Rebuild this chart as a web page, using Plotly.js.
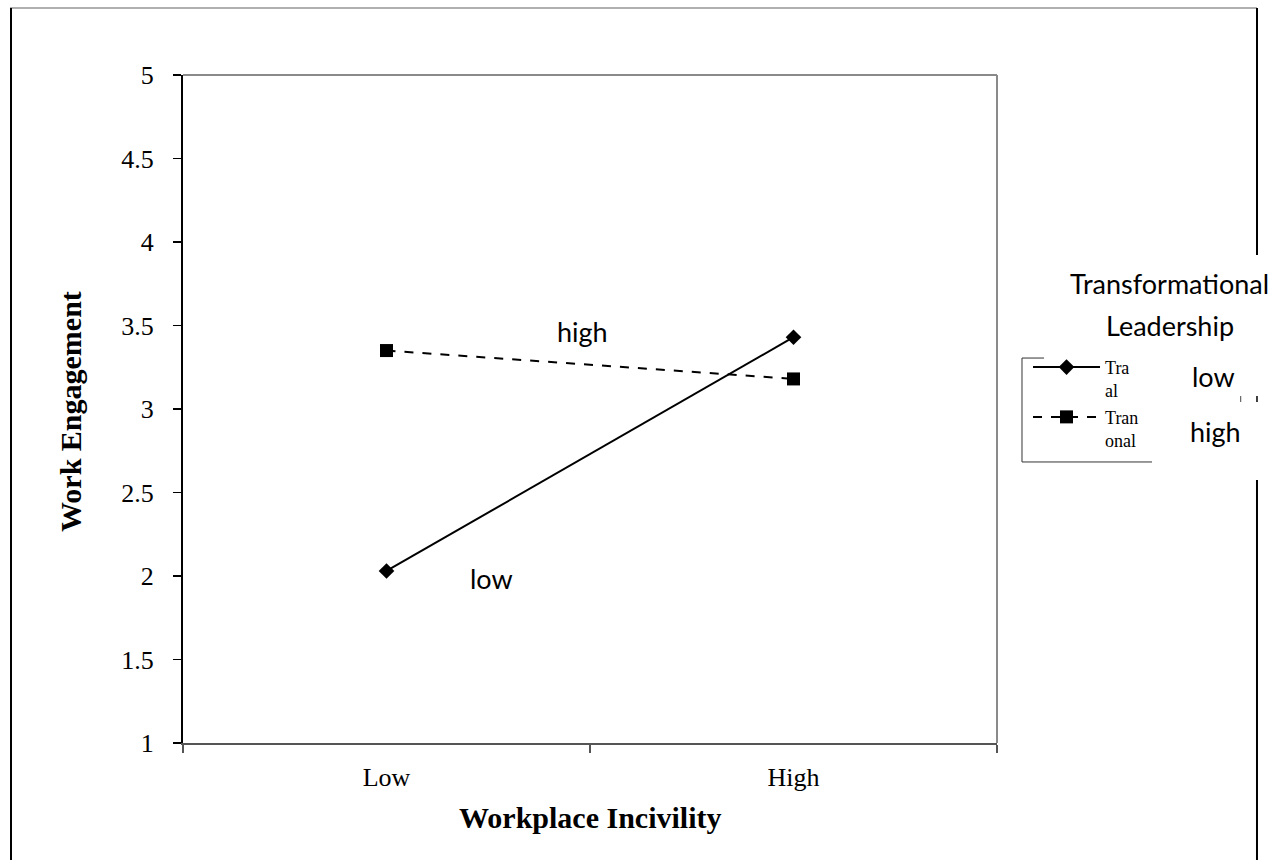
<!DOCTYPE html>
<html>
<head>
<meta charset="utf-8">
<script src="https://cdn.plot.ly/plotly-3.0.1.min.js"></script>
<style>html,body{margin:0;padding:0;background:#fff;}#chart{width:1284px;height:860px;}</style>
</head>
<body>
<div id="chart"></div>
<script>
// ---- data ----
const categories = ["Low", "High"];
const lowLeadership = [2.03, 3.43];
const highLeadership = [3.35, 3.18];
const legendNames = ["Tra<br>al", "Tran<br>onal"];
const yTicks = [1, 1.5, 2, 2.5, 3, 3.5, 4, 4.5, 5];
const yTickText = ["1", "1.5", "2", "2.5", "3", "3.5", "4", "4.5", "5"];
const xTitle = "Workplace Incivility";
const yTitle = "Work Engagement";

const serif = "Liberation Serif, Times New Roman, serif";
const sans = "Lato, Open Sans, sans-serif";

const traces = [
  {
    x: categories, y: lowLeadership, name: legendNames[0], type: "scatter", mode: "lines+markers",
    line: {color: "#000", width: 2, dash: "solid"},
    marker: {symbol: "diamond", size: 12, color: "#000"}
  },
  {
    x: categories, y: highLeadership, name: legendNames[1], type: "scatter", mode: "lines+markers",
    line: {color: "#000", width: 2, dash: "dash"},
    marker: {symbol: "square", size: 13, color: "#000"}
  }
];

const layout = {
  width: 1284, height: 860,
  margin: {l: 183, r: 287, t: 75, b: 117},
  paper_bgcolor: "#fff", plot_bgcolor: "#fff",
  showlegend: true,
  legend: {
    x: 1.0381, y: 0.590, xanchor: "left", yanchor: "top",
    bgcolor: "rgba(0,0,0,0)", borderwidth: 0,
    font: {family: serif, size: 18, color: "#000"},
    valign: "top", tracegroupgap: 0, itemwidth: 67
  },
  xaxis: {
    type: "category", range: [-0.5, 1.5],
    showgrid: false, zeroline: false,
    showline: true, linecolor: "#555", linewidth: 2,
    ticks: "outside", tickson: "boundaries", ticklen: 8, tickcolor: "#555", tickwidth: 1.5,
    tickfont: {family: serif, size: 26, color: "#000"},
    ticklabelstandoff: 10,
    fixedrange: true
  },
  yaxis: {
    range: [1, 5], tickvals: yTicks, ticktext: yTickText,
    showgrid: false, zeroline: false,
    showline: true, linecolor: "#000", linewidth: 2,
    ticks: "outside", ticklen: 8, tickcolor: "#000", tickwidth: 1.5,
    tickfont: {family: serif, size: 26, color: "#000"},
    ticklabelstandoff: 14,
    fixedrange: true
  },
  shapes: [
    // plot top and right border
    {type: "line", xref: "paper", yref: "paper", x0: 0, x1: 1, y0: 1, y1: 1, line: {color: "#8a8a8a", width: 2}},
    {type: "line", xref: "paper", yref: "paper", x0: 1, x1: 1, y0: 0, y1: 1, line: {color: "#8a8a8a", width: 2}},
    // outer frame
    {type: "line", xref: "paper", yref: "paper", x0: -0.2125, x1: 1.3194, y0: 1.1003, y1: 1.1003, line: {color: "#b0b0b0", width: 2}},
    {type: "line", xref: "paper", yref: "paper", x0: -0.2113, x1: -0.2113, y0: 1.1003, y1: -0.18, line: {color: "#000", width: 2}},
    {type: "line", xref: "paper", yref: "paper", x0: 1.3194, x1: 1.3194, y0: 1.1003, y1: 0.7305, line: {color: "#000", width: 2}},
    {type: "line", xref: "paper", yref: "paper", x0: 1.3194, x1: 1.3194, y0: 0.3937, y1: -0.18, line: {color: "#000", width: 2}},
    {type: "line", xref: "paper", yref: "paper", x0: 1.3194, x1: 1.3194, y0: 0.5194, y1: 0.5105, line: {color: "#000", width: 1.5}},
    {type: "line", xref: "paper", yref: "paper", x0: 1.2994, x1: 1.2994, y0: 0.5194, y1: 0.5105, line: {color: "#444", width: 1}},
    // legend box (partial)
    {type: "line", xref: "paper", yref: "paper", x0: 1.0307, x1: 1.0307, y0: 0.5763, y1: 0.4207, line: {color: "#333", width: 1}},
    {type: "line", xref: "paper", yref: "paper", x0: 1.0307, x1: 1.0578, y0: 0.5763, y1: 0.5763, line: {color: "#333", width: 1}},
    {type: "line", xref: "paper", yref: "paper", x0: 1.0307, x1: 1.1904, y0: 0.4207, y1: 0.4207, line: {color: "#333", width: 1}}
  ],
  annotations: [
    {text: "<b>" + xTitle + "</b>", xref: "paper", yref: "paper", x: 0.5, y: -0.1108, xanchor: "center", yanchor: "middle", showarrow: false, font: {family: serif, size: 30, color: "#000"}},
    {text: "<b>" + yTitle + "</b>", xref: "paper", yref: "paper", x: -0.1388, y: 0.4955, xanchor: "center", yanchor: "middle", textangle: -90, showarrow: false, font: {family: serif, size: 30, color: "#000"}},
    {text: "high", xref: "paper", yref: "paper", x: 0.4914, y: 0.6153, xanchor: "center", yanchor: "middle", showarrow: false, font: {family: sans, size: 27, color: "#000"}},
    {text: "low", xref: "paper", yref: "paper", x: 0.3796, y: 0.247, xanchor: "center", yanchor: "middle", showarrow: false, font: {family: sans, size: 27, color: "#000"}},
    {text: "Transformational", xref: "paper", yref: "paper", x: 1.2125, y: 0.6886, xanchor: "center", yanchor: "middle", showarrow: false, font: {family: sans, size: 27, color: "#000"}},
    {text: "Leadership", xref: "paper", yref: "paper", x: 1.2125, y: 0.6257, xanchor: "center", yanchor: "middle", showarrow: false, font: {family: sans, size: 27, color: "#000"}},
    {text: "low", xref: "paper", yref: "paper", x: 1.2654, y: 0.5494, xanchor: "center", yanchor: "middle", showarrow: false, font: {family: sans, size: 27, color: "#000"}},
    {text: "high", xref: "paper", yref: "paper", x: 1.269, y: 0.467, xanchor: "center", yanchor: "middle", showarrow: false, font: {family: sans, size: 27, color: "#000"}}
  ]
};

Plotly.newPlot("chart", traces, layout, {staticPlot: true, displayModeBar: false});
</script>
</body>
</html>
